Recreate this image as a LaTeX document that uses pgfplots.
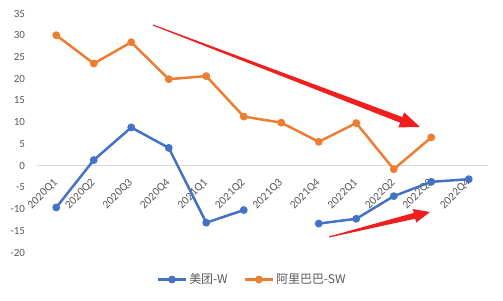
\documentclass[border=0pt]{standalone}
\usepackage{fontspec}
\setmainfont{Carlito}
\newfontfamily\cjk{Noto Sans CJK SC}
\usepackage{pgfplots}
\pgfplotsset{compat=1.18}
\definecolor{mtblue}{HTML}{4472C4}
\definecolor{alorange}{HTML}{ED7D31}
\definecolor{ticktext}{HTML}{595959}
\definecolor{arrowred}{HTML}{F01E1E}
\begin{document}
\begin{tikzpicture}
\useasboundingbox (0,0) rectangle (503bp,301bp);
\begin{axis}[
  at={(37.5bp,48.3bp)}, anchor=south west,
  scale only axis, width=450bp, height=239.2bp,
  xmin=-0.5, xmax=11.5, ymin=-20, ymax=35,
  ytick={-20,-15,...,35},
  xtick={0,...,11},
  xticklabels={2020Q1,2020Q2,2020Q3,2020Q4,2021Q1,2021Q2,2021Q3,2021Q4,2022Q1,2022Q2,2022Q3,2022Q4},
  axis x line=middle, axis y line=left,
  x axis line style={-, draw=black!15, line width=0.75bp},
  y axis line style={draw=none},
  major tick length=0pt,
  tick label style={font=\fontsize{11}{13}\selectfont, text=ticktext},
  yticklabel style={xshift=-9bp},
  xticklabel style={font=\fontsize{11.5}{13}\selectfont, xshift=2bp, yshift=-13bp, rotate=45, anchor=east},
  /pgf/number format/assume math mode=true,
  unbounded coords=jump,
  clip=false,
  legend style={at={(0.477,-0.112)}, anchor=center, draw=none, fill=none,
    legend columns=2, font=\cjk\fontsize{12}{14}\selectfont, text=ticktext,
    inner sep=0pt,
    /tikz/every even column/.append style={column sep=14bp}},
  legend image code/.code={
    \draw[mark repeat=2,mark phase=2] plot coordinates {(0bp,0bp) (14bp,0bp) (28bp,0bp)};},
]
\addplot[color=mtblue, line width=2.5bp, mark=*, mark size=2.6bp, mark options={fill=mtblue}]
  coordinates {(0,-9.6) (1,1.3) (2,8.8) (3,4.1) (4,-13.1) (5,-10.2) (6,nan)
               (7,-13.3) (8,-12.2) (9,-7.0) (10,-3.7) (11,-3.1)};
\addlegendentry{美团-W}
\addplot[color=alorange, line width=2.5bp, mark=*, mark size=2.6bp, mark options={fill=alorange}]
  coordinates {(0,30.0) (1,23.5) (2,28.4) (3,19.9) (4,20.6) (5,11.3) (6,9.9)
               (7,5.5) (8,9.8) (9,-0.8) (10,6.5) (11,nan)};
\addlegendentry{阿里巴巴-SW}
\end{axis}
% trend arrows, in pixel units measured from the top-left corner
\begin{scope}[shift={(0,301bp)}, x=1bp, y=-1bp]
  \fill[arrowred] (153.2,24.5) -- (402.4,117.1) -- (404.2,112.4) -- (420,127)
    -- (398.4,127.4) -- (400.2,122.7) -- (152.8,25.5) -- cycle;
  \fill[arrowred] (328.9,236.5) -- (413.8,212.9) -- (412.8,209.0) -- (430,212)
    -- (416.2,222.6) -- (415.2,218.7) -- (329.1,237.5) -- cycle;
\end{scope}
\end{tikzpicture}
\end{document}
